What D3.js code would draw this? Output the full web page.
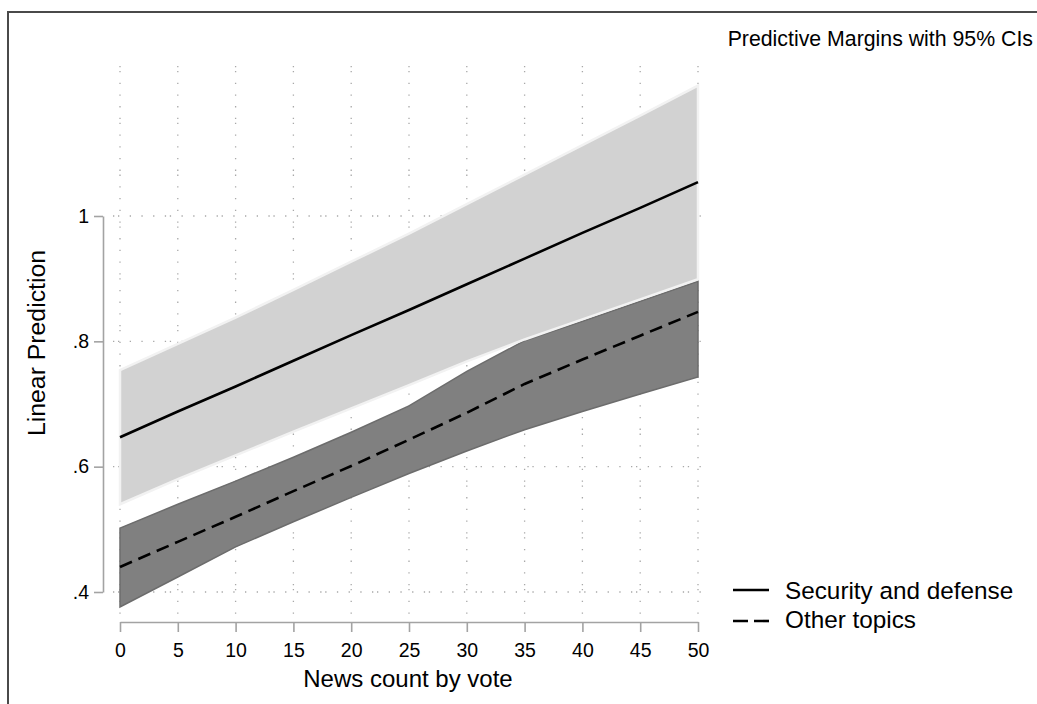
<!DOCTYPE html>
<html>
<head>
<meta charset="utf-8">
<script src="https://cdn.jsdelivr.net/npm/d3@7/dist/d3.min.js"></script>
<style>
  html, body { margin: 0; padding: 0; background: #fff; }
  svg { display: block; font-family: "Liberation Sans", Arial, sans-serif; }
</style>
</head>
<body>
<svg id="chart" width="1037" height="704"></svg>
<script>
// ---- data ----
const newsCount = [0, 5, 10, 15, 20, 25, 30, 35, 40, 45, 50];
const securityMargin = [0.647, 0.688, 0.728, 0.769, 0.810, 0.850, 0.891, 0.932, 0.973, 1.013, 1.054];
const securityUpper  = [0.754, 0.796, 0.838, 0.882, 0.927, 0.972, 1.019, 1.066, 1.113, 1.160, 1.208];
const securityLower  = [0.540, 0.580, 0.618, 0.656, 0.693, 0.730, 0.768, 0.803, 0.835, 0.867, 0.899];
const otherMargin = [0.440, 0.480, 0.520, 0.561, 0.601, 0.643, 0.686, 0.732, 0.771, 0.809, 0.847];
const otherUpper  = [0.502, 0.540, 0.577, 0.615, 0.655, 0.697, 0.752, 0.801, 0.832, 0.864, 0.896];
const otherLower  = [0.376, 0.424, 0.472, 0.512, 0.551, 0.589, 0.625, 0.659, 0.688, 0.716, 0.743];
const xTicks = [0, 5, 10, 15, 20, 25, 30, 35, 40, 45, 50];
const yTicks = [0.4, 0.6, 0.8, 1.0];
const yTickLabels = [".4", ".6", ".8", "1"];
const seriesNames = ["Security and defense", "Other topics"];
const chartTitle = "Predictive Margins with 95% CIs";
const xTitle = "News count by vote";
const yTitle = "Linear Prediction";

// ---- layout ----
const svg = d3.select("#chart");
const x = d3.scaleLinear().domain([0, 50]).range([120, 698]);
const y = d3.scaleLinear().domain([0.4, 1.0]).range([592, 216]);
const plot = { left: 113, right: 711, top: 66, bottom: 617 };

// outer frame
svg.append("path")
  .attr("d", "M8,704 V12 H1037")
  .attr("fill", "none").attr("stroke", "#4a4a4a").attr("stroke-width", 2);

// grid (dotted)
const gridDash = "1.3,3.7,1.3,10.4,1.3,10.4,1.3,10.4,1.3,10.4";
const grid = svg.append("g").attr("stroke", "#a8a8a8").attr("stroke-width", 1.3)
  .attr("stroke-dasharray", gridDash);
grid.selectAll("line.v").data(xTicks).join("line")
  .attr("x1", d => x(d)).attr("x2", d => x(d))
  .attr("y1", plot.top).attr("y2", plot.bottom);
grid.selectAll("line.h").data(yTicks).join("line")
  .attr("y1", d => y(d)).attr("y2", d => y(d))
  .attr("x1", plot.left).attr("x2", plot.right);

// bands
const otherRows = newsCount.map((n, i) => ({ n, lo: otherLower[i], hi: otherUpper[i], m: otherMargin[i] }));
const secRows = newsCount.map((n, i) => ({ n, lo: securityLower[i], hi: securityUpper[i], m: securityMargin[i] }));
const area = d3.area().x(d => x(d.n)).y0(d => y(d.lo)).y1(d => y(d.hi));

svg.append("path").datum(otherRows)
  .attr("d", area).attr("fill", "#808080")
  .attr("stroke", "#6c6c6c").attr("stroke-width", 1.5);
svg.append("path").datum(secRows)
  .attr("d", area).attr("fill", "#d2d2d2")
  .attr("stroke", "#f2f2f2").attr("stroke-width", 2.5);

// lines
const line = d3.line().x(d => x(d.n)).y(d => y(d.m));
svg.append("path").datum(secRows).attr("d", line)
  .attr("fill", "none").attr("stroke", "#000").attr("stroke-width", 2.6);
svg.append("path").datum(otherRows).attr("d", line)
  .attr("fill", "none").attr("stroke", "#000").attr("stroke-width", 2.6)
  .attr("stroke-dasharray", "13,7");

// axes
const axisColor = "#a3a3a3";
const yAxis = svg.append("g").attr("transform", "translate(103,0)")
  .call(d3.axisLeft(y).tickValues(yTicks).tickFormat((d, i) => yTickLabels[i])
    .tickSize(9).tickSizeOuter(0).tickPadding(5));
const xAxis = svg.append("g").attr("transform", "translate(0,622)")
  .call(d3.axisBottom(x).tickValues(xTicks).tickFormat(d3.format("d"))
    .tickSize(10).tickSizeOuter(0).tickPadding(11));
[yAxis, xAxis].forEach(g => {
  g.select(".domain").attr("stroke", axisColor).attr("stroke-width", 1.6);
  g.selectAll(".tick line").attr("stroke", axisColor).attr("stroke-width", 1.6);
  g.selectAll(".tick text").attr("fill", "#000")
    .style("font-family", "'Liberation Sans', Arial, sans-serif").style("font-size", "19.5px");
});

// titles
svg.append("text").attr("x", 1033).attr("y", 46).attr("text-anchor", "end")
  .style("font-size", "21.3px").attr("fill", "#000").text(chartTitle);
svg.append("text").attr("x", 408).attr("y", 687).attr("text-anchor", "middle")
  .style("font-size", "24px").attr("fill", "#000").text(xTitle);
svg.append("text").attr("transform", "translate(45,343) rotate(-90)").attr("text-anchor", "middle")
  .style("font-size", "24.8px").attr("fill", "#000").text(yTitle);

// legend
const legendY = [590, 621];
const legendBase = [599, 628];
const lg = svg.append("g");
seriesNames.forEach((name, i) => {
  lg.append("line").attr("x1", 733).attr("x2", 769)
    .attr("y1", legendY[i]).attr("y2", legendY[i])
    .attr("stroke", "#000").attr("stroke-width", 2.6)
    .attr("stroke-dasharray", i === 1 ? "15,6" : null);
  lg.append("text").attr("x", 785).attr("y", legendBase[i])
    .style("font-size", "24.3px").attr("fill", "#000").text(name);
});
</script>
</body>
</html>
